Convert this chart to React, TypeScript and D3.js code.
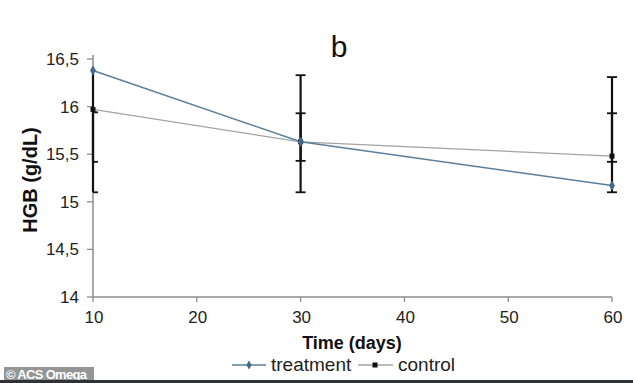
import React from "react";
import * as d3 from "d3";

const days = [10, 30, 60];
const treatment = [16.38, 15.63, 15.17];
const control = [15.97, 15.63, 15.48];
const treatmentLow = [15.1, 15.1, 15.1];
const treatmentHigh = [16.38, 16.33, 16.31];
const controlLow = [15.42, 15.43, 15.42];
const controlHigh = [15.94, 15.93, 15.93];
const xTicks = [10, 20, 30, 40, 50, 60];
const yTicks = [14, 14.5, 15, 15.5, 16, 16.5];
const yTickLabels = ["14", "14,5", "15", "15,5", "16", "16,5"];

const W = 633;
const H = 383;
const FONT = "Liberation Sans, Arial, sans-serif";

export default function App() {
  const x = d3.scaleLinear().domain([10, 60]).range([93, 612]);
  const y = d3.scaleLinear().domain([14, 16.5]).range([297, 59]);
  const line = d3
    .line<number>()
    .x((_, i) => x(days[i]))
    .y((d) => y(d));

  const capW = 5;
  const bar = (i: number, lo: number, hi: number, topCap: boolean, key: string) => {
    const cx = x(days[i]);
    const left = i === 0 ? cx : cx - capW;
    return (
      <g key={key}>
        <line x1={cx} x2={cx} y1={y(lo)} y2={y(hi)} stroke="#111" strokeWidth={2.2} />
        <line x1={left} x2={cx + capW} y1={y(lo)} y2={y(lo)} stroke="#111" strokeWidth={1.8} />
        {topCap && <line x1={left} x2={cx + capW} y1={y(hi)} y2={y(hi)} stroke="#111" strokeWidth={1.8} />}
      </g>
    );
  };

  return (
    <div style={{ position: "fixed", left: 0, top: 0, width: W, height: H, background: "#fff" }}>
      <svg width={W} height={H} style={{ display: "block", fontFamily: FONT }}>
        <rect width={W} height={H} fill="#fff" />
        {/* title */}
        <text x={339} y={57} fontSize={30} textAnchor="middle" fill="#111">b</text>

        {/* y axis */}
        <line x1={93} x2={93} y1={y(14)} y2={y(16.5) - 4} stroke="#8c8c8c" strokeWidth={1.5} />
        {yTicks.map((t, i) => (
          <g key={"yt" + i}>
            <line x1={87} x2={93} y1={y(t)} y2={y(t)} stroke="#8c8c8c" strokeWidth={1.3} />
            <text x={79} y={y(t) + 6} fontSize={17} textAnchor="end" fill="#222">{yTickLabels[i]}</text>
          </g>
        ))}

        {/* x axis */}
        <line x1={x(10)} x2={x(60)} y1={y(14)} y2={y(14)} stroke="#8c8c8c" strokeWidth={1.5} />
        {xTicks.map((t) => (
          <g key={"xt" + t}>
            <line x1={x(t)} x2={x(t)} y1={y(14)} y2={y(14) + 5} stroke="#8c8c8c" strokeWidth={1.3} />
            <text x={x(t) + 1} y={323} fontSize={17} textAnchor="middle" fill="#222">{t}</text>
          </g>
        ))}

        {/* axis labels */}
        <text
          transform={`translate(37,180) rotate(-90)`}
          fontSize={20}
          fontWeight="bold"
          textAnchor="middle"
          fill="#111"
        >
          HGB (g/dL)
        </text>
        <text x={352} y={349} fontSize={18} fontWeight="bold" textAnchor="middle" fill="#111">Time (days)</text>

        {/* lines */}
        <path d={line(control) || ""} fill="none" stroke="#a3a3a3" strokeWidth={1.3} />
        <path d={line(treatment) || ""} fill="none" stroke="#5b7f99" strokeWidth={1.5} />

        {/* error bars */}
        {days.map((_, i) => bar(i, treatmentLow[i], treatmentHigh[i], i > 0, "tb" + i))}
        {days.map((_, i) => bar(i, controlLow[i], controlHigh[i], true, "cb" + i))}

        {/* markers */}
        {control.map((v, i) => (
          <rect key={"cm" + i} x={x(days[i]) - 2.5} y={y(v) - 2.5} width={5} height={5} fill="#111" />
        ))}
        {treatment.map((v, i) => (
          <path
            key={"tm" + i}
            d={d3.symbol(d3.symbolDiamond, 30)() || ""}
            transform={`translate(${x(days[i])},${y(v)})`}
            fill="#44698a"
          />
        ))}

        {/* legend */}
        <line x1={232} x2={266} y1={365} y2={365} stroke="#5b7f99" strokeWidth={1.5} />
        <path d={d3.symbol(d3.symbolDiamond, 24)() || ""} transform="translate(249,365)" fill="#44698a" />
        <text x={271} y={371} fontSize={19} fill="#222">treatment</text>
        <line x1={358} x2={393} y1={365} y2={365} stroke="#a3a3a3" strokeWidth={1.3} />
        <rect x={372.5} y={362.5} width={5} height={5} fill="#111" />
        <text x={398} y={371} fontSize={19} fill="#222">control</text>

        {/* watermark */}
        <rect x={4} y={367} width={90} height={13} fill="#8a8a8a" opacity={0.9} />
        <text x={6} y={379} fontSize={13} fontWeight="bold" fill="#fff" textLength={81}>© ACS Omega</text>
        <rect x={0} y={380} width={W} height={3} fill="#2e3236" />
      </svg>
    </div>
  );
}
